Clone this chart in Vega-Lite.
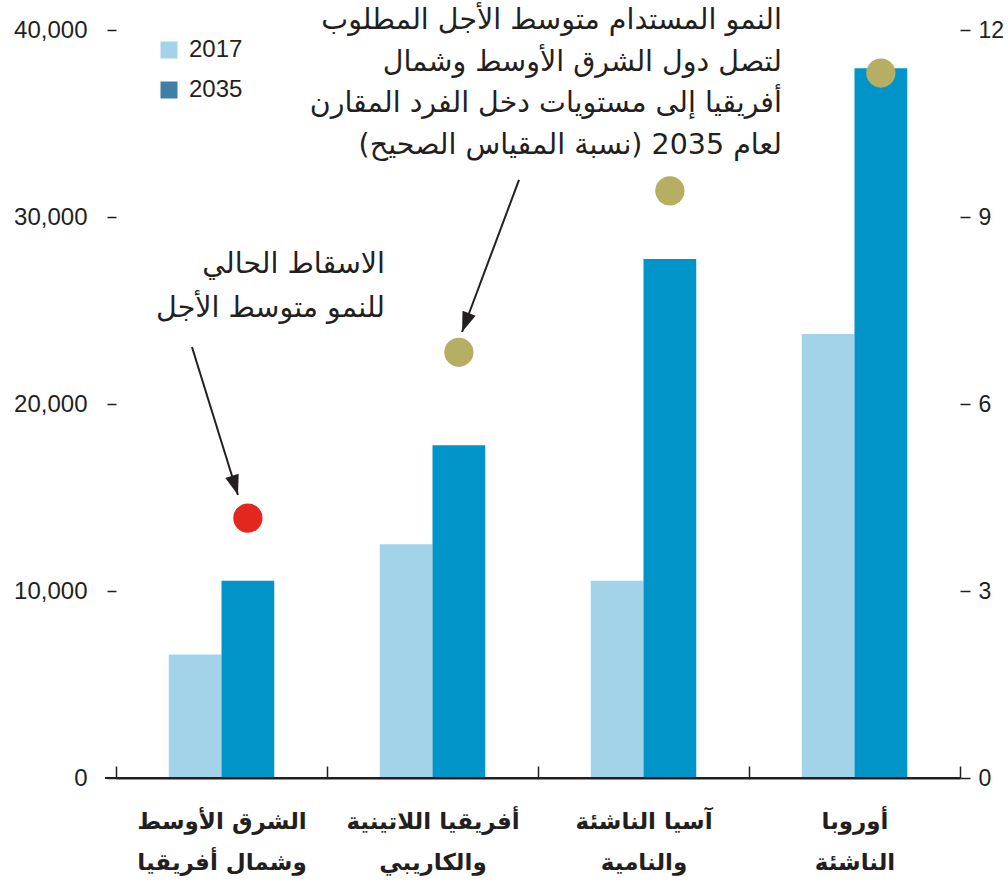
{
  "$schema": "https://vega.github.io/schema/vega-lite/v6.json",
  "width": 844,
  "height": 748,
  "autosize": {"type": "none"},
  "padding": {"left": 116, "top": 30, "right": 48, "bottom": 105},
  "background": "white",
  "config": {"view": {"stroke": null}, "font": "Liberation Sans"},
  "datasets": {
    "income": [
      {"region": "الشرق الأوسط\nوشمال أفريقيا", "year": "2017", "income": 6600},
      {"region": "الشرق الأوسط\nوشمال أفريقيا", "year": "2035", "income": 10550},
      {"region": "أفريقيا اللاتينية\nوالكاريبي", "year": "2017", "income": 12500},
      {"region": "أفريقيا اللاتينية\nوالكاريبي", "year": "2035", "income": 17800},
      {"region": "آسيا الناشئة\nوالنامية", "year": "2017", "income": 10550},
      {"region": "آسيا الناشئة\nوالنامية", "year": "2035", "income": 27750},
      {"region": "أوروبا\nالناشئة", "year": "2017", "income": 23750},
      {"region": "أوروبا\nالناشئة", "year": "2035", "income": 37950}
    ],
    "growth": [
      {"region": "الشرق الأوسط\nوشمال أفريقيا", "year": "2035", "projection": "current", "growth": 4.17},
      {"region": "أفريقيا اللاتينية\nوالكاريبي", "year": "2035", "projection": "required", "growth": 6.83},
      {"region": "آسيا الناشئة\nوالنامية", "year": "2035", "projection": "required", "growth": 9.42},
      {"region": "أوروبا\nالناشئة", "year": "2035", "projection": "required", "growth": 11.31}
    ],
    "notes": [
      {"id": "current", "note": "الاسقاط الحالي\nللنمو متوسط الأجل", "pos": 1.275, "level": 8.25},
      {"id": "required", "note": "النمو المستدام متوسط الأجل المطلوب\nلتصل دول الشرق الأوسط وشمال\nأفريقيا إلى مستويات دخل الفرد المقارن\nلعام 2035 (نسبة المقياس الصحيح)", "pos": 3.156, "level": 12.16}
    ],
    "arrows": [
      {"id": "a", "pos": 0.36, "level": 6.914, "pos2": 0.578, "level2": 4.54},
      {"id": "b", "pos": 1.91, "level": 9.594, "pos2": 1.64, "level2": 7.155}
    ],
    "baseline": [
      {"pos": -0.052, "pos2": 4, "level": 0}
    ]
  },
  "layer": [
    {
      "data": {"name": "income"},
      "mark": {"type": "bar"},
      "encoding": {
        "x": {
          "field": "region", "type": "nominal", "sort": null,
          "scale": {"type": "band", "domain": ["الشرق الأوسط\nوشمال أفريقيا", "أفريقيا اللاتينية\nوالكاريبي", "آسيا الناشئة\nوالنامية", "أوروبا\nالناشئة"], "paddingInner": 0, "paddingOuter": 0},
          "axis": {
            "title": null, "orient": "bottom", "domain": true, "domainColor": "#231f20", "domainWidth": 2,
            "ticks": true, "tickBand": "extent", "tickSize": -12, "tickColor": "#231f20", "tickWidth": 1.5,
            "labelAngle": 0, "labelFont": "DejaVu Sans", "labelFontWeight": "bold", "labelFontSize": 23,
            "labelColor": "#231f20", "labelPadding": 44, "labelLineHeight": 41, "labelBaseline": "top",
            "labelExpr": "split(datum.label, '\\n')"
          }
        },
        "xOffset": {"field": "year", "type": "nominal", "scale": {"type": "band", "domain": ["2017", "2035"], "paddingInner": 0, "paddingOuter": 1.089}},
        "y": {
          "field": "income", "type": "quantitative",
          "scale": {"domain": [0, 40000], "nice": false},
          "axis": {
            "title": null, "orient": "left", "values": [0, 10000, 20000, 30000, 40000], "format": ",.0f",
            "domain": false, "grid": false, "tickSize": 9, "tickColor": "#231f20", "tickWidth": 1.5,
            "labelFontSize": 24, "labelPadding": 20, "labelColor": "#231f20"
          }
        },
        "fill": {"field": "year", "type": "nominal", "scale": {"domain": ["2017", "2035"], "range": ["#a3d3e9", "#0094c8"]}, "legend": null}
      }
    },
    {
      "data": {"name": "growth"},
      "mark": {"type": "circle", "size": 855, "opacity": 1},
      "encoding": {
        "x": {
          "field": "region", "type": "nominal", "sort": null,
          "scale": {"type": "band", "domain": ["الشرق الأوسط\nوشمال أفريقيا", "أفريقيا اللاتينية\nوالكاريبي", "آسيا الناشئة\nوالنامية", "أوروبا\nالناشئة"], "paddingInner": 0, "paddingOuter": 0},
          "axis": null
        },
        "xOffset": {"field": "year", "type": "nominal", "scale": {"type": "band", "domain": ["2017", "2035"], "paddingInner": 0, "paddingOuter": 1.089}},
        "y": {
          "field": "growth", "type": "quantitative",
          "scale": {"domain": [0, 12], "nice": false},
          "axis": {
            "title": null, "orient": "right", "values": [0, 3, 6, 9, 12],
            "domain": false, "grid": false, "tickSize": 10, "tickColor": "#231f20", "tickWidth": 1.5,
            "labelFontSize": 23, "labelPadding": 8, "labelColor": "#231f20"
          }
        },
        "color": {"field": "projection", "type": "nominal", "scale": {"domain": ["current", "required"], "range": ["#e3261e", "#b6ae62"]}, "legend": null}
      }
    },
    {
      "data": {"name": "income"},
      "transform": [{"filter": "false"}],
      "mark": {"type": "square"},
      "encoding": {
        "color": {
          "field": "year", "type": "nominal",
          "scale": {"domain": ["2017", "2035"], "range": ["#a3d3e9", "#3d7fa6"]},
          "legend": {
            "title": null, "orient": "none", "legendX": 41, "legendY": 8,
            "symbolType": "square", "symbolSize": 289, "symbolStrokeWidth": 0, "symbolOpacity": 1,
            "labelFontSize": 24, "labelColor": "#231f20", "labelFont": "Liberation Sans",
            "labelOffset": 8, "rowPadding": 16
          }
        }
      }
    },
    {
      "data": {"name": "baseline"},
      "mark": {"type": "rule", "strokeWidth": 2, "color": "#231f20"},
      "encoding": {
        "x": {"field": "pos", "type": "quantitative", "scale": {"domain": [0, 4], "nice": false, "zero": false}, "axis": null},
        "x2": {"field": "pos2"},
        "y": {"field": "level", "type": "quantitative", "scale": {"domain": [0, 12], "nice": false}, "axis": null}
      }
    },
    {
      "data": {"name": "notes"},
      "transform": [{"filter": "datum.id == 'current'"}],
      "mark": {"type": "text", "align": "right", "baseline": "middle", "font": "DejaVu Sans", "fontSize": 28.5, "lineBreak": "\n", "lineHeight": 44, "color": "#231f20", "dir": "rtl"},
      "encoding": {
        "x": {"field": "pos", "type": "quantitative", "scale": {"domain": [0, 4], "nice": false, "zero": false}, "axis": null},
        "y": {"field": "level", "type": "quantitative", "scale": {"domain": [0, 12], "nice": false}, "axis": null},
        "text": {"field": "note"}
      }
    },
    {
      "data": {"name": "notes"},
      "transform": [{"filter": "datum.id == 'required'"}],
      "mark": {"type": "text", "align": "right", "baseline": "middle", "font": "DejaVu Sans", "fontSize": 28.5, "lineBreak": "\n", "lineHeight": 41.5, "color": "#231f20", "dir": "rtl"},
      "encoding": {
        "x": {"field": "pos", "type": "quantitative", "scale": {"domain": [0, 4], "nice": false, "zero": false}, "axis": null},
        "y": {"field": "level", "type": "quantitative", "scale": {"domain": [0, 12], "nice": false}, "axis": null},
        "text": {"field": "note"}
      }
    },
    {
      "data": {"name": "arrows"},
      "mark": {"type": "rule", "strokeWidth": 2, "color": "#231f20"},
      "encoding": {
        "x": {"field": "pos", "type": "quantitative", "scale": {"domain": [0, 4], "nice": false, "zero": false}, "axis": null},
        "x2": {"field": "pos2"},
        "y": {"field": "level", "type": "quantitative", "scale": {"domain": [0, 12], "nice": false}, "axis": null},
        "y2": {"field": "level2"}
      }
    },
    {
      "data": {"name": "arrows"},
      "transform": [{"filter": "datum.id == 'a'"}],
      "mark": {"type": "point", "shape": "M0,0L-0.7,-2L0.7,-2Z", "size": 400, "filled": true, "opacity": 1, "color": "#231f20", "angle": 342.7},
      "encoding": {
        "x": {"field": "pos2", "type": "quantitative", "scale": {"domain": [0, 4], "nice": false, "zero": false}, "axis": null},
        "y": {"field": "level2", "type": "quantitative", "scale": {"domain": [0, 12], "nice": false}, "axis": null}
      }
    },
    {
      "data": {"name": "arrows"},
      "transform": [{"filter": "datum.id == 'b'"}],
      "mark": {"type": "point", "shape": "M0,0L-0.7,-2L0.7,-2Z", "size": 400, "filled": true, "opacity": 1, "color": "#231f20", "angle": 20.6},
      "encoding": {
        "x": {"field": "pos2", "type": "quantitative", "scale": {"domain": [0, 4], "nice": false, "zero": false}, "axis": null},
        "y": {"field": "level2", "type": "quantitative", "scale": {"domain": [0, 12], "nice": false}, "axis": null}
      }
    }
  ],
  "resolve": {
    "scale": {"x": "independent", "y": "independent", "xOffset": "independent", "color": "independent", "fill": "independent"}
  }
}
